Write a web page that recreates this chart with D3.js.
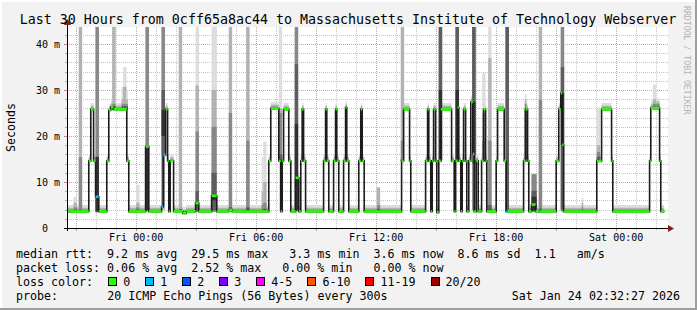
<!DOCTYPE html>
<html>
<head>
<meta charset="utf-8">
<script src="https://d3js.org/d3.v7.min.js"></script>
<style>
  html, body { margin: 0; padding: 0; background: #f2f2f2; }
  svg { display: block; font-family: "DejaVu Sans Mono", monospace; }
  text { white-space: pre; }
</style>
</head>
<body>
<svg id="chart" width="697" height="310"></svg>
<script>
// all times are hours relative to Fri 23 Jan 2026 00:00 (local)
// median rtt steps: [hour, ms, lossIndex] - each holds until the next one
const medianSteps = [
  [-3.46, 3.6, 0], [-2.37, 14.6, 0], [-2.27, 25.8, 0], [-2.13, 14.6, 0], [-2.03, 6.8, 1],
  [-1.87, 3.6, 0], [-1.47, 14.6, 0], [-1.37, 25.6, 0], [-1.27, 26.3, 0], [-1.13, 25.8, 0],
  [-0.47, 14.6, 0], [-0.37, 3.6, 0], [0.47, 17.7, 0], [0.63, 3.6, 0], [1.27, 4.6, 1],
  [1.35, 15.9, 1], [1.47, 25.8, 0], [1.57, 14.6, 0], [1.63, 3.6, 0], [1.70, 14.6, 0],
  [1.87, 3.6, 0], [2.33, 3.2, 0], [2.50, 3.6, 0], [2.97, 5.4, 0], [3.13, 3.6, 0],
  [3.77, 7.0, 0], [4.03, 3.6, 0], [4.63, 3.9, 0], [4.80, 3.6, 0], [6.63, 14.6, 0],
  [6.73, 26.0, 0], [7.13, 14.6, 0], [7.23, 3.6, 0], [7.30, 14.6, 0], [7.37, 25.8, 0],
  [7.63, 14.6, 0], [7.73, 3.6, 0], [7.97, 10.9, 0], [8.13, 3.6, 0], [8.23, 14.6, 0],
  [8.30, 25.8, 0], [8.37, 14.6, 0], [8.47, 3.6, 0], [9.37, 14.6, 0], [9.47, 25.8, 0],
  [9.53, 14.6, 0], [9.63, 3.6, 0], [9.87, 14.6, 0], [9.97, 25.8, 0], [10.03, 14.6, 0],
  [10.13, 3.6, 0], [10.37, 14.6, 0], [10.47, 26.2, 0], [10.53, 14.6, 0], [10.63, 3.6, 0],
  [11.13, 14.6, 0], [11.23, 25.8, 0], [11.30, 14.6, 0], [11.40, 3.6, 0], [13.27, 14.6, 0],
  [13.37, 25.8, 0], [13.67, 14.6, 0], [13.73, 3.6, 0], [14.47, 14.6, 0], [14.57, 25.8, 0],
  [14.63, 14.6, 0], [14.73, 3.6, 0], [14.80, 14.6, 0], [14.87, 25.8, 0], [14.97, 14.6, 0],
  [15.03, 3.4, 0], [15.13, 14.6, 0], [15.23, 25.8, 0], [15.77, 14.6, 0], [15.90, 3.6, 0],
  [15.97, 14.6, 0], [16.07, 26.2, 0], [16.13, 14.6, 0], [16.23, 3.6, 0], [16.30, 14.6, 0],
  [16.37, 25.8, 0], [16.47, 14.6, 0], [16.53, 3.6, 0], [16.63, 14.6, 0], [16.73, 27.4, 0],
  [16.83, 16.1, 0], [16.90, 3.6, 0], [17.00, 14.6, 0], [17.10, 3.6, 0], [17.27, 14.6, 0],
  [17.37, 25.8, 0], [17.47, 14.6, 0], [17.53, 3.6, 0], [18.00, 14.6, 0], [18.07, 25.8, 0],
  [18.40, 14.6, 0], [18.50, 3.6, 1], [18.57, 3.6, 0], [19.37, 14.6, 0], [19.47, 25.8, 0],
  [19.57, 14.6, 0], [19.63, 3.6, 0], [19.77, 5.1, 0], [19.97, 3.6, 0], [20.13, 3.6, 1],
  [20.20, 3.6, 0], [21.00, 14.6, 0], [21.13, 25.8, 0], [21.23, 29.3, 0], [21.30, 18.1, 0],
  [21.37, 3.6, 0], [23.03, 14.6, 0], [23.27, 25.8, 0], [23.77, 14.6, 0], [23.83, 3.6, 0],
  [25.67, 14.6, 0], [25.73, 26.1, 0], [26.17, 14.6, 0], [26.23, 3.6, 0]
];
const dataEnd = 26.4;

// usual spread of the 20 pings around the median (ms), sorted, every second ping
const typicalSpread = [-0.4, -0.3, -0.2, -0.1, 0, 0.1, 0.2, 0.4, 0.8, 1.4];

// intervals with scattered pings: start hour, number of 5 min steps, sorted pings (ms)
const smokeSpikes = [
  { h: -3.13, n: 2, p: [3.4, 3.5, 3.6, 3.6, 3.7, 3.8, 4, 4.5, 5.5, 6.8] },
  { h: -2.87, n: 2, p: [3.4, 3.5, 3.6, 3.6, 3.7, 3.8, 4, 15.4, 50, 50] },
  { h: -2.03, n: 2, p: [3.3, 3.4, 3.5, 3.5, 3.6, 15.4, 15.5, 50, 50, 50] },
  { h: -1.20, n: 2, p: [25.5, 25.6, 25.7, 25.8, 25.8, 26, 26.5, 27, 50, 50] },
  { h: -0.73, n: 1, p: [25.6, 25.7, 25.8, 25.8, 25.9, 26, 26.5, 27, 28, 30.7] },
  { h: -0.65, n: 2, p: [25.6, 25.7, 25.8, 25.8, 25.9, 26, 26.5, 27, 30.7, 35] },
  { h: -0.50, n: 1, p: [25.6, 25.7, 25.8, 25.8, 25.9, 26, 26.5, 27, 28, 30] },
  { h: 0.00, n: 2, p: [3.4, 3.5, 3.6, 3.6, 3.7, 3.8, 4, 4.5, 5.5, 9.4] },
  { h: 0.47, n: 2, p: [3.6, 3.6, 3.7, 3.8, 3.9, 17.7, 17.8, 50, 50, 50] },
  { h: 1.27, n: 2, p: [3.6, 4, 4.6, 15.9, 20, 25.7, 30, 50, 50, 50] },
  { h: 2.13, n: 2, p: [3.4, 3.5, 3.6, 3.6, 3.7, 3.8, 4, 4.2, 50, 50] },
  { h: 2.97, n: 2, p: [3.4, 3.5, 3.6, 3.8, 5.4, 5.6, 8, 21, 31, 50] },
  { h: 3.77, n: 3, p: [3.4, 3.5, 3.6, 3.8, 6, 7.2, 12, 22, 30, 50] },
  { h: 4.63, n: 2, p: [3.4, 3.5, 3.6, 3.7, 3.8, 4, 4.5, 25, 50, 50] },
  { h: 5.50, n: 2, p: [3.4, 3.5, 3.6, 3.7, 3.8, 4, 4.5, 19, 50, 50] },
  { h: 6.27, n: 1, p: [3.4, 3.5, 3.6, 3.6, 3.7, 3.8, 4, 5, 8, 15.4] },
  { h: 6.35, n: 2, p: [3.4, 3.5, 3.6, 3.6, 3.7, 3.8, 4.2, 5.5, 10, 18.8] },
  { h: 7.13, n: 2, p: [3.5, 14.5, 14.6, 14.6, 14.7, 15, 16, 25, 26, 50] },
  { h: 7.93, n: 2, p: [3.5, 3.6, 3.7, 3.8, 3.9, 22.6, 35.6, 50, 50, 50] },
  { h: 12.03, n: 2, p: [3.4, 3.5, 3.6, 3.6, 3.7, 3.8, 4.2, 5, 8.8, 8.8] },
  { h: 13.23, n: 2, p: [14.4, 14.5, 14.6, 14.6, 14.7, 14.8, 15, 19, 50, 50] },
  { h: 15.13, n: 2, p: [14.4, 14.5, 14.6, 14.7, 14.8, 30, 50, 50, 50, 50] },
  { h: 15.97, n: 2, p: [14.4, 14.5, 14.6, 14.7, 14.8, 30, 50, 50, 50, 50] },
  { h: 16.80, n: 2, p: [3.6, 3.8, 4, 14, 16, 27.4, 50, 50, 50, 50] },
  { h: 17.30, n: 2, p: [14.4, 14.5, 14.6, 14.6, 14.7, 14.8, 15, 19, 25, 33.8] },
  { h: 17.53, n: 1, p: [3.4, 3.5, 3.6, 3.6, 3.7, 3.8, 4, 5, 10, 19.5] },
  { h: 17.60, n: 2, p: [3.4, 3.5, 3.6, 3.7, 3.8, 4, 5, 19, 37, 50] },
  { h: 18.47, n: 2, p: [3.4, 3.5, 3.6, 3.7, 3.8, 3.9, 50, 50, 50, 50] },
  { h: 19.43, n: 1, p: [14.5, 14.6, 14.6, 14.7, 15, 25.8, 26, 27, 28, 29.1] },
  { h: 19.77, n: 3, p: [3.4, 3.5, 3.6, 3.7, 3.8, 6.8, 8.1, 11.7, 11.7, 11.7] },
  { h: 20.13, n: 2, p: [3.4, 3.5, 3.6, 3.7, 3.8, 3.9, 4.2, 27.9, 50, 50] },
  { h: 21.23, n: 2, p: [3.5, 3.6, 3.7, 4, 18.1, 29.3, 35, 50, 50, 50] },
  { h: 22.27, n: 1, p: [3.4, 3.5, 3.6, 3.6, 3.7, 3.8, 4, 4.5, 5.5, 6.5] },
  { h: 23.03, n: 2, p: [14.4, 14.5, 14.6, 14.7, 14.8, 15, 15.5, 16.5, 18, 26.2] },
  { h: 25.83, n: 2, p: [25.6, 25.7, 25.8, 25.8, 25.9, 26, 26.5, 27, 28, 31.2] },
  { h: 26.00, n: 2, p: [25.6, 25.7, 25.8, 25.8, 25.9, 26, 26.5, 27, 27.5, 28.2] }
];

const xTickHours = [0, 6, 12, 18, 24];
const xTickLabels = ["Fri 00:00", "Fri 06:00", "Fri 12:00", "Fri 18:00", "Sat 00:00"];
const yTickValues = [0, 10, 20, 30, 40];
const yTickLabels = ["0  ", "10 m", "20 m", "30 m", "40 m"];

const lossLabels = ["0", "1", "2", "3", "4-5", "6-10", "11-19", "20/20"];
const lossColors = ["#26ff00", "#00b8ff", "#0059ff", "#7e00ff", "#ff00ff", "#ff5500", "#ff0000", "#a10000"];

const titleText = "Last 30 Hours from 0cff65a8ac44 to Massachusetts Institute of Technology Webserver";
const legendRows = [
  "median rtt:  9.2 ms avg  29.5 ms max   3.3 ms min  3.6 ms now  8.6 ms sd  1.1   am/s",
  "packet loss: 0.06 % avg  2.52 % max   0.00 % min   0.00 % now"
];
const probeText = "20 ICMP Echo Pings (56 Bytes) every 300s";
const stampText = "Sat Jan 24 02:32:27 2026";

const W = 697, H = 310;
const plot = { left: 67, right: 667, top: 27, bottom: 228 };
const legendFont = 11.65, charW = legendFont * 0.602;

const base = new Date(2026, 0, 23, 0, 0, 0);
const at = h => new Date(base.getTime() + h * 3600e3);
const end = new Date(2026, 0, 24, 2, 32, 27);
const start = new Date(end.getTime() - 30 * 3600e3);

const x = d3.scaleTime().domain([start, end]).range([plot.left, plot.right]);
const y = d3.scaleLinear().domain([0, 43.7]).range([plot.bottom, plot.top]);
const shade = d3.scaleLinear().domain([0, 4]).range([221, 50]);
const gray = k => { const g = Math.round(shade(k)); return `rgb(${g},${g},${g})`; };

const svg = d3.select("#chart");

// canvas + 3d frame
svg.append("rect").attr("width", W).attr("height", H).attr("fill", "#f2f2f2");
svg.append("path").attr("d", `M1,${H}V1H${W}`).attr("fill", "none").attr("stroke", "#ffffff").attr("stroke-width", 2);
svg.append("path").attr("d", `M0,${H - 1}H${W - 1}V0`).attr("fill", "none").attr("stroke", "#9e9e9e").attr("stroke-width", 2);

svg.append("rect").attr("x", plot.left).attr("y", plot.top)
  .attr("width", plot.right - plot.left + 1).attr("height", plot.bottom - plot.top)
  .attr("fill", "#ffffff");

// grid
const grid = svg.append("g");
const crisp = v => Math.round(v) + 0.5;
d3.range(2, 44, 2).forEach(v => {
  const major = v % 10 === 0;
  grid.append("line")
    .attr("x1", plot.left).attr("x2", plot.right + 1)
    .attr("y1", crisp(y(v))).attr("y2", crisp(y(v)))
    .attr("stroke", major ? "#e59a9a" : "#c4c4c4").attr("stroke-dasharray", "1,1");
  grid.append("line")
    .attr("x1", plot.left - (major ? 3 : 2)).attr("x2", plot.left)
    .attr("y1", crisp(y(v))).attr("y2", crisp(y(v)))
    .attr("stroke", major ? "#d08080" : "#aaaaaa");
});
d3.timeHour.range(d3.timeHour.ceil(start), end).forEach(t => {
  const major = t.getHours() % 3 === 0;
  const px = crisp(x(t));
  grid.append("line")
    .attr("x1", px).attr("x2", px).attr("y1", plot.top).attr("y2", plot.bottom)
    .attr("stroke", major ? "#e59a9a" : "#c4c4c4").attr("stroke-dasharray", "1,1");
  grid.append("line")
    .attr("x1", px).attr("x2", px).attr("y1", plot.bottom).attr("y2", plot.bottom + (major ? 3 : 2))
    .attr("stroke", major ? "#d08080" : "#aaaaaa");
});

svg.append("clipPath").attr("id", "clip").append("rect")
  .attr("x", plot.left).attr("y", plot.top)
  .attr("width", plot.right - plot.left + 1).attr("height", plot.bottom - plot.top);

const g = svg.append("g").attr("clip-path", "url(#clip)");

// segments of the median
const segs = medianSteps.map((d, i) => ({
  t0: at(d[0]),
  t1: at(i + 1 < medianSteps.length ? medianSteps[i + 1][0] : dataEnd),
  v: d[1],
  loss: d[2]
}));

// smoke: pair k spans ping k .. ping (9-k), inner pairs darker
function drawSmoke(t0, t1, pings) {
  const x0 = x(t0), x1 = x(t1);
  for (let k = 0; k < 5; k++) {
    const lo = pings[k], hi = pings[9 - k];
    g.append("rect")
      .attr("x", x0).attr("width", Math.max(0.5, x1 - x0))
      .attr("y", y(hi)).attr("height", Math.max(0, y(lo) - y(hi)))
      .attr("fill", gray(k));
  }
}
segs.forEach(s => drawSmoke(s.t0, s.t1, typicalSpread.map(o => s.v + o)));
smokeSpikes.forEach(s => drawSmoke(at(s.h), at(s.h + s.n / 12), s.p));

// median line
const linePts = segs.map(s => [s.t0, s.v]).concat([[at(dataEnd), segs[segs.length - 1].v]]);
g.append("path")
  .attr("d", d3.line().x(d => x(d[0])).y(d => y(d[1])).curve(d3.curveStepAfter)(linePts))
  .attr("fill", "none").attr("stroke", "#1c1c1c").attr("stroke-width", 1.6);

// loss coloured median
g.selectAll(".loss").data(segs).enter().append("line")
  .attr("x1", d => x(d.t0)).attr("x2", d => x(d.t1))
  .attr("y1", d => y(d.v)).attr("y2", d => y(d.v))
  .attr("stroke", d => lossColors[d.loss]).attr("stroke-width", 2.6);

// axes
svg.append("line").attr("x1", plot.left - 3).attr("x2", plot.right + 2)
  .attr("y1", plot.bottom + 0.5).attr("y2", plot.bottom + 0.5).attr("stroke", "#000");
svg.append("line").attr("x1", plot.left + 0.5).attr("x2", plot.left + 0.5)
  .attr("y1", plot.bottom + 3).attr("y2", plot.top - 3).attr("stroke", "#000");
svg.append("path").attr("d", `M${plot.right + 1},${plot.bottom - 3}L${plot.right + 7},${plot.bottom + 0.5}L${plot.right + 1},${plot.bottom + 4}Z`)
  .attr("fill", "#8b1a1a");
svg.append("path").attr("d", `M${plot.left - 3},${plot.top - 2}L${plot.left + 0.5},${plot.top - 8}L${plot.left + 4},${plot.top - 2}Z`)
  .attr("fill", "#8b1a1a");

// tick labels
svg.selectAll(".xl").data(xTickHours).enter().append("text")
  .attr("x", d => x(at(d))).attr("y", 241)
  .attr("text-anchor", "middle").attr("font-size", 10).attr("fill", "#000")
  .text((d, i) => xTickLabels[i]);
svg.selectAll(".yl").data(yTickValues).enter().append("text")
  .attr("xml:space", "preserve")
  .attr("x", 60).attr("y", d => y(d) + 3.6)
  .attr("text-anchor", "end").attr("font-size", 10).attr("fill", "#000")
  .text((d, i) => yTickLabels[i]);

svg.append("text")
  .attr("transform", `translate(14.5,${(plot.top + plot.bottom) / 2}) rotate(-90)`)
  .attr("text-anchor", "middle").attr("font-size", 11.6).attr("fill", "#000")
  .text("Seconds");

svg.append("text")
  .attr("transform", `translate(684,6) rotate(90)`)
  .attr("font-size", 8.2).attr("fill", "#b4b4b4")
  .text("RRDTOOL / TOBI OETIKER");

svg.append("text")
  .attr("x", 348).attr("y", 24).attr("text-anchor", "middle")
  .attr("font-size", 13.3).attr("fill", "#000")
  .text(titleText);

// legend
const lx = 16;
const rowY = [258, 272, 286, 300];
legendRows.forEach((r, i) => {
  svg.append("text").attr("xml:space", "preserve")
    .attr("x", lx).attr("y", rowY[i]).attr("font-size", legendFont).attr("fill", "#000")
    .text(r);
});
svg.append("text").attr("x", lx).attr("y", rowY[2]).attr("font-size", legendFont).text("loss color:");
let bx = lx + 13 * charW + 1;
lossLabels.forEach((lab, i) => {
  svg.append("rect").attr("x", Math.round(bx) + 0.5).attr("y", rowY[2] - 8.5)
    .attr("width", 8).attr("height", 8)
    .attr("fill", lossColors[i]).attr("stroke", "#000").attr("stroke-width", 1);
  svg.append("text").attr("x", bx + 15).attr("y", rowY[2]).attr("font-size", legendFont).text(lab);
  bx += 15 + (lab.length + 2) * charW + 1;
});
svg.append("text").attr("x", lx).attr("y", rowY[3]).attr("font-size", legendFont).text("probe:");
svg.append("text").attr("x", lx + 13 * charW).attr("y", rowY[3]).attr("font-size", legendFont).text(probeText);
svg.append("text").attr("x", 680).attr("y", rowY[3]).attr("text-anchor", "end").attr("font-size", legendFont).text(stampText);
</script>
</body>
</html>
